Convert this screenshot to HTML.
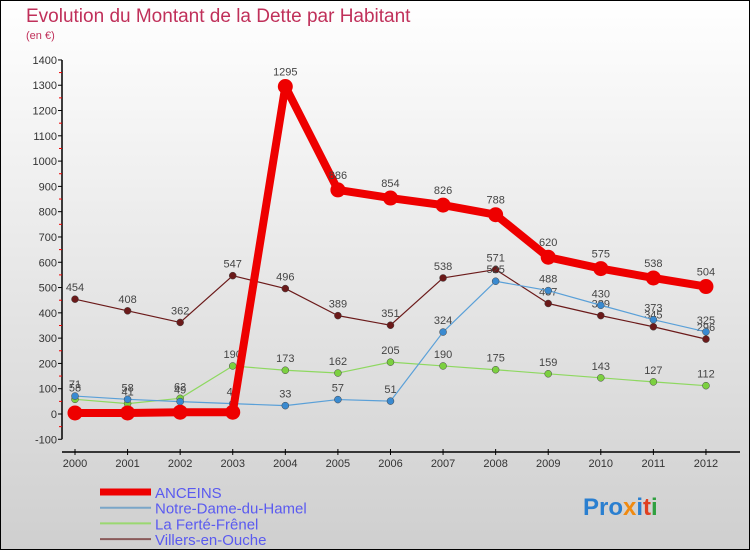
<!DOCTYPE html>
<html><head><meta charset="utf-8"><style>
body{margin:0;width:750px;height:550px;overflow:hidden}
svg{display:block;font-family:"Liberation Sans",sans-serif}
</style></head><body>
<svg id="chart" width="750" height="550" viewBox="0 0 750 550">
<defs><linearGradient id="bg" x1="0" y1="0" x2="0" y2="1"><stop offset="0" stop-color="#ffffff"/><stop offset="1" stop-color="#cfcfcf"/></linearGradient></defs>
<rect x="0.5" y="0.5" width="749" height="549" fill="url(#bg)" stroke="#000"/>
<text x="26" y="22" font-size="19" fill="#c0305a">Evolution du Montant de la Dette par Habitant</text>
<text x="26" y="39" font-size="11" fill="#c0305a">(en €)</text>
<g id="axes"></g><g id="series"></g><g id="legend"></g>
<text x="583" y="515" font-size="24" font-weight="bold"><tspan fill="#2a7fd0">Pro</tspan><tspan fill="#f08a10">x</tspan><tspan fill="#2a7fd0">i</tspan><tspan fill="#e04020">t</tspan><tspan fill="#30a040">i</tspan></text>
</svg>
<script>
const years=["2000","2001","2002","2003","2004","2005","2006","2007","2008","2009","2010","2011","2012"];
const yTicks=[-100,0,100,200,300,400,500,600,700,800,900,1000,1100,1200,1300,1400];
const anceins=[4,4,7,7,1295,886,854,826,788,620,575,538,504];
const notreDame=[71,58,49,41,33,57,51,324,525,488,430,373,325];
const laFerte=[58,41,62,190,173,162,205,190,175,159,143,127,112];
const villers=[454,408,362,547,496,389,351,538,571,437,389,345,296];
const NS="http://www.w3.org/2000/svg";
const xs=i=>75+i*52.58;
const ys=v=>414-v*0.2529;
function mk(tag,attrs,parent){const e=document.createElementNS(NS,tag);for(const k in attrs)e.setAttribute(k,attrs[k]);parent.appendChild(e);return e;}
const ax=document.getElementById('axes');
let a=mk('line',{x1:62,y1:ys(1400),x2:62,y2:ys(-100),stroke:'#000','stroke-width':1.5},ax);


a=mk('line',{x1:62,y1:452,x2:740,y2:452,stroke:'#000','stroke-width':1.5},ax);


yTicks.forEach((t,i)=>{
  mk('line',{x1:58,x2:62,y1:ys(t),y2:ys(t),stroke:'#000'},ax);
  if(i<yTicks.length-1)mk('line',{x1:59,x2:62,y1:ys(t+50),y2:ys(t+50),stroke:'#e00'},ax);
  const tx=mk('text',{x:57,y:ys(t)+4,'font-size':11,'text-anchor':'end',fill:'#333'},ax);
  tx.textContent=t;
  
  
});
years.forEach((y,i)=>{
  mk('line',{x1:xs(i),x2:xs(i),y1:449,y2:455,stroke:'#000'},ax);
  const tx=mk('text',{x:xs(i),y:467,'font-size':11,'text-anchor':'middle',fill:'#333'},ax);
  tx.textContent=y;
  
  
});
const sg=document.getElementById('series');
const series=[
 {name:'villers-en-ouche',data:villers,color:'#6b1a1a',w:1.2,r:3.5,label:true},
 {name:'la-ferte-frenel',data:laFerte,color:'#8ed860',w:1.2,r:3.5,label:true,fill:'#7cd040'},
 {name:'notre-dame-du-hamel',data:notreDame,color:'#5aa0d8',w:1.2,r:3.5,label:true,fill:'#3a8ad0'},
 {name:'anceins',data:anceins,color:'#ee0000',w:8,r:7.5,label:true,skipLow:true}
];
series.forEach(s=>{
  const g=mk('g',{},sg);
  
  
  const p=mk('polyline',{points:s.data.map((v,i)=>xs(i)+','+ys(v)).join(' '),fill:'none',stroke:s.color,'stroke-width':s.w,'stroke-linejoin':'round'},g);
  
  
  s.data.forEach((v,i)=>{
    const c=mk('circle',{cx:xs(i),cy:ys(v),r:s.r,fill:s.fill||s.color,stroke:s.w>2?'none':'#444','stroke-width':0.5},g);
    
    
    if(s.skipLow&&v<20)return;
    const t=mk('text',{x:xs(i),y:ys(v)-(s.w>2?11:8),'font-size':11,'text-anchor':'middle',fill:'#444'},g);
    t.textContent=v;
    
    
  });
});
const lg=document.getElementById('legend');
const legendItems=[['ANCEINS','#ee0000',7],['Notre-Dame-du-Hamel','#7aa6c8',2],['La Ferté-Frênel','#9ad870',2],['Villers-en-Ouche','#8a5a5a',2]];
legendItems.forEach((it,i)=>{
  const y=492+i*15.7;
  const l=mk('line',{x1:100,x2:151,y1:y,y2:y,stroke:it[1],'stroke-width':it[2]},lg);
  
  
  const t=mk('text',{x:155,y:y+6,'font-size':15,fill:'#5a5af0'},lg);
  t.textContent=it[0];
  
  
});
</script>
</body></html>
